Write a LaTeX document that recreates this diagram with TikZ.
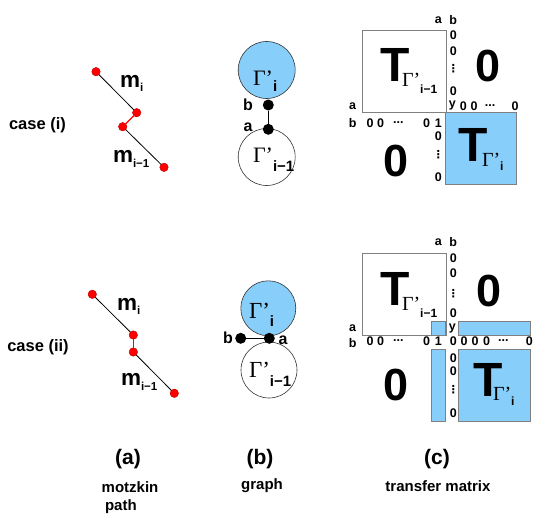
\documentclass[tikz,border=0pt]{standalone}
\usepackage{fontspec}
\setmainfont{Liberation Sans}
\newfontfamily\gamfont{Liberation Serif}
\newfontfamily\symfont{DejaVu Sans}
\definecolor{lblue}{RGB}{135,206,250}
\definecolor{boxgray}{RGB}{128,128,128}
\newcommand\fs[1]{\fontsize{#1}{#1}\selectfont}
\newcommand\GS[4]{{\gamfont\mdseries\fs{#1}Γ’}\raisebox{#4pt}{\fs{#2}\bfseries #3}}
\newcommand\MS[3]{m\raisebox{#3pt}{\fs{#1}#2}}
\begin{document}
\begin{tikzpicture}[x=1pt,y=-1pt,
  every node/.style={inner sep=0pt,outer sep=0pt,font=\bfseries},
  rdot/.style={circle,fill=red,draw=red!75!black,line width=0.4pt,minimum size=8.5pt},
  bdot/.style={circle,fill=black,minimum size=11pt},
  lbl/.style={font=\bfseries\fs{16.5}},
  mlbl/.style={font=\bfseries\fs{22.5},anchor=base west},
  glbl/.style={font=\bfseries\fs{16}},
  sm/.style={font=\bfseries\fs{12.5}},
  vd/.style={font=\symfont\bfseries\fs{11}},
  big0/.style={font=\bfseries\fs{45}},
  bigT/.style={font=\bfseries\fs{48},anchor=base west},
  gsub/.style={anchor=base west},
  gcirc/.style={circle,draw=black!80,line width=0.6pt,minimum size=57pt},
  mbox/.style={draw=boxgray,line width=0.8pt},
  bbox/.style={draw=boxgray,line width=0.8pt,fill=lblue},
  mpath/.style={line width=0.8pt,black},
  rpath/.style={line width=1.2pt,red},
  captxt/.style={font=\bfseries\fs{21}},
  desc/.style={font=\bfseries\fs{15}}
]
\useasboundingbox (0,0) rectangle (545,524);

% ---------- case labels ----------
\node[lbl] (ci) at (37.5,125) {case (i)};
\node[lbl] (cii) at (38,347) {case (ii)};

% ---------- motzkin paths ----------
\node[rdot] (p1) at (96,71.7) {};
\node[rdot] (p2) at (136.7,112.7) {};
\node[rdot] (p3) at (122.7,126.7) {};
\node[rdot] (p4) at (164,167.3) {};
\draw[mpath] (p1) -- (p2);
\draw[rpath] (p2) -- (p3);
\draw[mpath] (p3) -- (p4);
\node[mlbl] (mi1) at (120,88) {\MS{11.5}{i}{-4}};
\node[mlbl] (mj1) at (113,162) {\MS{11.5}{i−1}{-5}};

\node[rdot] (q1) at (92.3,294.3) {};
\node[rdot] (q2) at (133.3,335) {};
\node[rdot] (q3) at (133.3,352) {};
\node[rdot] (q4) at (174.3,393.3) {};
\draw[mpath] (q1) -- (q2);
\draw[rpath] (q2) -- (q3);
\draw[mpath] (q3) -- (q4);
\node[mlbl] (mi2) at (117,310) {\MS{11.5}{i}{-4}};
\node[mlbl] (mj2) at (121,385) {\MS{11.5}{i−1}{-5}};

% ---------- graphs ----------
\node[gcirc,fill=lblue] (g1) at (266.7,70) {};
\node[gcirc,fill=white] (h1) at (266.7,157) {};
\node[gsub] (g1t) at (253,85) {\GS{22}{15}{i}{-6}};
\node[gsub] (h1t) at (253,162) {\GS{22}{15}{i−1}{-9}};
\node[bdot] (b1) at (268.3,105) {};
\node[bdot] (a1) at (268.3,129.3) {};
\draw[line width=0.8pt] (b1) -- (a1);
\node[glbl] (lb1) at (248,105) {b};
\node[glbl] (la1) at (248,127) {a};

\node[gcirc,fill=lblue,minimum size=55pt] (g2) at (268.3,308.3) {};
\node[gcirc,fill=white,minimum size=56pt] (h2) at (269,370) {};
\node[gsub] (g2t) at (249,318) {\GS{23}{15}{i}{-8}};
\node[gsub] (h2t) at (249,377) {\GS{23}{15}{i−1}{-9}};
\node[bdot] (a2) at (269.3,338.3) {};
\node[bdot] (b2) at (240.7,338.3) {};
\draw[line width=0.8pt] (b2) -- (a2);
\node[glbl] (lb2) at (228,338) {b};
\node[glbl] (la2) at (283,340) {a};

% ---------- matrix (i) ----------
\draw[mbox] (362.7,30.7) rectangle (446,112.3);
\draw[bbox] (445.3,112.7) rectangle (516.7,184.3);
\node[bigT] (T1) at (380,81.7) {T};
\node[gsub] (T1s) at (402,86.7) {\GS{20}{12}{i−1}{-7}};
\node[bigT] (T2) at (458,161.7) {T};
\node[gsub] (T2s) at (482,166.7) {\GS{20}{12}{i}{-4}};
\node[big0] (z1) at (488,66) {0};
\node[big0] (z2) at (396,161.5) {0};
% top labels
\node[sm] at (438.3,20) {a};
\node[sm] at (453.3,20) {b};
\node[sm] at (453.3,35) {0};
\node[sm] at (453.3,50.7) {0};
\node[vd] at (453.3,69) {⋮};
\node[sm] at (453.3,90.7) {0};
\node[sm] at (452.3,105.7) {y};
\node[sm] at (463.3,105.7) {0};
\node[sm] at (474,105.7) {0};
\node[sm] at (490,105.7) {...};
\node[sm] at (515,105.7) {0};
% left labels
\node[sm] at (352.7,105.7) {a};
\node[sm] at (352.7,122.7) {b};
\node[sm] at (370,122.7) {0};
\node[sm] at (380.7,122.7) {0};
\node[sm] at (398.3,122.7) {...};
\node[sm] at (426.7,122.7) {0};
\node[sm] at (438.3,122.7) {1};
\node[sm] at (438.3,136) {0};
\node[vd] at (438.3,155) {⋮};
\node[sm] at (438.3,176.7) {0};

% ---------- matrix (ii) ----------
\draw[mbox] (362.7,253.3) rectangle (446,335);
\draw[bbox] (431.7,321.7) rectangle (445.3,335);
\draw[bbox] (458.3,321.7) rectangle (530.7,335);
\draw[bbox] (431.7,349) rectangle (445.3,421);
\draw[bbox] (458.3,349) rectangle (530.7,421);
\node[bigT] (T3) at (380,305) {T};
\node[gsub] (T3s) at (402,310) {\GS{20}{12}{i−1}{-7}};
\node[bigT] (T4) at (473,396.7) {T};
\node[gsub] (T4s) at (493,400) {\GS{20}{12}{i}{-5}};
\node[big0] (z3) at (489,291) {0};
\node[big0] (z4) at (396,385) {0};
\node[sm] at (438.3,242.3) {a};
\node[sm] at (453.3,242.3) {b};
\node[sm] at (453.3,258.3) {0};
\node[sm] at (453.3,272.7) {0};
\node[vd] at (453.3,293.3) {⋮};
\node[sm] at (453.3,313.3) {0};
\node[sm] at (452.3,328.3) {y};
\node[sm] at (352.7,328.3) {a};
\node[sm] at (352.7,343.3) {b};
\node[sm] at (370,341) {0};
\node[sm] at (380.7,341) {0};
\node[sm] at (398.3,341) {...};
\node[sm] at (426.7,341) {0};
\node[sm] at (438.3,341) {1};
\node[sm] at (453.3,341) {0};
\node[sm] at (464,341) {0};
\node[sm] at (475,341) {0};
\node[sm] at (486.7,341) {0};
\node[sm] at (503.3,341) {...};
\node[sm] at (529.3,341) {0};
\node[sm] at (453.3,358.3) {0};
\node[sm] at (453.3,371) {0};
\node[vd] at (453.3,390) {⋮};
\node[sm] at (453.3,413.3) {0};

% ---------- captions ----------
\node[captxt] (ca) at (128,459) {(a)};
\node[captxt] (cb) at (260,459) {(b)};
\node[captxt] (cc) at (437,459) {(c)};
\node[desc] (da) at (130,487) {motzkin};
\node[desc,anchor=west] (da2) at (105,507) {path};
\node[desc] (db) at (262,486) {graph};
\node[desc] (dc) at (438,486) {transfer matrix};
\end{tikzpicture}
\end{document}
